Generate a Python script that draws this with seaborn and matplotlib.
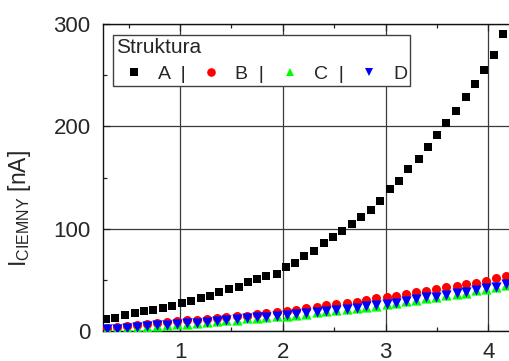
import matplotlib
matplotlib.use("Agg")
import matplotlib.pyplot as plt
import seaborn as sns
from matplotlib.lines import Line2D
from matplotlib.ticker import MultipleLocator

# Dark current vs bias voltage for four structures
volt_a = [0.28, 0.37, 0.46, 0.56, 0.65, 0.74, 0.83, 0.92, 1.02, 1.11, 1.20,
          1.29, 1.38, 1.48, 1.57, 1.66, 1.75, 1.84, 1.94, 2.03, 2.12, 2.21,
          2.30, 2.40, 2.49, 2.58, 2.67, 2.76, 2.86, 2.95, 3.04, 3.13, 3.22,
          3.32, 3.41, 3.50, 3.59, 3.68, 3.78, 3.87, 3.96, 4.05, 4.14]
prad_a = [11.4, 13.0, 15.9, 17.3, 19.3, 20.8, 22.8, 24.7, 27.1, 29.6, 32.5,
          34.5, 37.8, 40.8, 43.3, 47.6, 50.5, 53.9, 56.0, 62.2, 66.7, 73.5,
          78.2, 86.3, 92.2, 98.0, 104.6, 111.7, 118.7, 126.6, 139.0, 146.1,
          158.3, 168.3, 179.8, 191.5, 203.6, 215.3, 228.7, 241.4, 255.1,
          270.0, 290.2]

volt_bcd = [0.29, 0.39, 0.48, 0.58, 0.68, 0.78, 0.87, 0.97, 1.07, 1.16, 1.26,
            1.36, 1.45, 1.55, 1.65, 1.75, 1.84, 1.94, 2.04, 2.13, 2.23, 2.33,
            2.42, 2.52, 2.62, 2.72, 2.81, 2.91, 3.01, 3.10, 3.20, 3.30, 3.39,
            3.49, 3.59, 3.69, 3.78, 3.88, 3.98, 4.07, 4.17]
prad_b = [3.2, 3.9, 4.9, 5.9, 7.1, 8.1, 9.1, 9.8, 10.5, 11.2, 12.0, 13.0,
          14.0, 14.7, 15.1, 16.3, 17.3, 18.6, 19.5, 21.0, 22.7, 23.7, 25.1,
          26.1, 27.7, 28.6, 30.3, 32.0, 33.5, 34.5, 36.2, 37.8, 39.1, 40.8,
          43.0, 43.7, 45.6, 47.2, 49.2, 51.5, 53.7]
prad_c = [1.9, 1.9, 2.6, 3.3, 4.2, 5.2, 5.8, 6.4, 7.1, 7.7, 8.4, 9.7, 10.3,
          11.0, 12.3, 13.0, 13.6, 14.3, 14.9, 15.9, 16.9, 18.2, 19.1, 20.1,
          21.1, 22.4, 23.6, 24.9, 25.9, 27.2, 29.1, 30.5, 32.4, 33.0, 34.7,
          36.3, 37.6, 39.6, 41.2, 42.8, 45.1]
prad_d = [2.2, 2.2, 2.9, 3.6, 4.6, 5.6, 6.2, 6.8, 7.5, 8.1, 8.8, 10.1, 10.7,
          11.4, 12.7, 13.4, 14.0, 14.7, 15.3, 16.3, 17.3, 18.6, 19.5, 20.5,
          21.5, 22.8, 24.1, 25.4, 26.4, 27.7, 29.6, 31.0, 32.9, 33.5, 35.2,
          36.8, 38.1, 40.1, 41.7, 43.3, 45.6]

structures = ["A", "B", "C", "D"]
x_ticks = [1, 2, 3, 4]
y_ticks = [0, 100, 200, 300]

sns.set_style("ticks")
plt.rcParams["font.family"] = ["Liberation Sans", "DejaVu Sans"]
plt.rcParams["mathtext.default"] = "regular"

fig = plt.figure(figsize=(5.1, 3.61), dpi=100)
ax = fig.add_axes([0.202, 0.0831, 0.806, 0.8504])

series = [
    (volt_a, prad_a, "s", "black", 32),
    (volt_bcd, prad_b, "o", "red", 42),
    (volt_bcd, prad_c, "^", "#00ff00", 54),
    (volt_bcd, prad_d, "v", "#0000ff", 54),
]
for xs, ys, mk, col, size in series:
    sns.scatterplot(x=xs, y=ys, marker=mk, color=col, s=size, linewidth=0,
                    ax=ax, zorder=3, legend=False)

ax.set_xlim(0.25, 4.25)
ax.set_ylim(0, 300)
ax.set_xticks(x_ticks)
ax.set_yticks(y_ticks)
ax.xaxis.set_minor_locator(MultipleLocator(0.5))
ax.yaxis.set_minor_locator(MultipleLocator(50))
ax.grid(True, which="major", color="#3a3a3a", linewidth=0.9)
ax.set_axisbelow(True)

ax.tick_params(which="both", direction="in", top=True, right=False,
               color="#222222", width=0.9)
ax.tick_params(which="major", length=5, labelsize=16)
ax.tick_params(which="minor", length=3)
ax.tick_params(axis="y", which="major", pad=9)
ax.tick_params(axis="x", which="major", pad=8)

ax.spines["right"].set_visible(False)
for side in ("left", "top", "bottom"):
    ax.spines[side].set_color("#111111")
    ax.spines[side].set_linewidth(1.0)

ax.set_xlabel("")
ax.set_ylabel(r"I$_{\mathregular{CIEMNY}}$ [nA]", fontsize=16.5)
ax.yaxis.label.set_verticalalignment("center")
ax.yaxis.set_label_coords(-0.204, 0.40)

handles = [Line2D([], [], linestyle="", marker=mk, color=col,
                  markersize=6.2 if mk != "s" else 5.6, markeredgewidth=0)
           for _, _, mk, col, _ in series]
labels = [s + "  |" for s in structures[:-1]] + [structures[-1]]
leg = ax.legend(handles, labels, title="Struktura", ncol=4,
                loc="upper left", bbox_to_anchor=(0.0236, 0.964),
                fontsize=14, title_fontsize=15, alignment="left",
                handlelength=1.9, handletextpad=0.27, columnspacing=0.38,
                borderpad=0.15, borderaxespad=0, fancybox=False,
                framealpha=1, frameon=True)
frame = leg.get_frame()
frame.set_edgecolor("#404040")
frame.set_linewidth(1.0)
leg._legend_box.sep = 6

fig.savefig("out.png", dpi=100)
